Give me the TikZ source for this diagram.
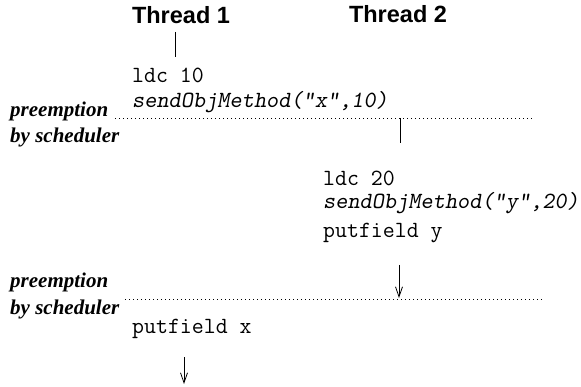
\documentclass[tikz,border=0pt]{standalone}
\usepackage{fontspec}
\setmainfont{Liberation Serif}
\newfontfamily\headfont{Liberation Sans}
\usetikzlibrary{arrows.meta}
\tikzset{
  head/.style={font=\headfont\bfseries\fontsize{23.5}{26}\selectfont, inner sep=0pt, anchor=base},
  code/.style={font=\ttfamily\fontsize{23.2}{26}\selectfont, inner sep=0pt, anchor=base west},
  icode/.style={code, font=\ttfamily\slshape\fontsize{23.2}{26}\selectfont},
  prelabel/.style={font=\bfseries\itshape\fontsize{21}{24}\selectfont, inner sep=0pt, anchor=base west},
  sched/.style={line width=0.6pt, dash pattern=on 0.8pt off 3.2pt},
  flow/.style={line width=0.8pt},
  flowarrow/.style={line width=0.8pt, -{Straight Barb[length=10pt,width=7pt]}}
}
\begin{document}
\begin{tikzpicture}[x=1pt,y=-1pt]
\useasboundingbox (0,0) rectangle (581,387);
% headers
\node[head] (t1) at (181,24) {Thread 1};
\node[head] (t2) at (398,23) {Thread 2};
% thread 1 start
\coordinate (a1) at (175,32);
\coordinate (a2) at (175,57);
\draw[flow] (a1) -- (a2);
\node[code] (ldc10) at (132,83) {ldc 10};
\node[icode] (send1) at (132,108) {sendObjMethod("x",10)};
% first preemption
\coordinate (d1s) at (115,118);
\coordinate (d1e) at (533,118);
\draw[sched] (d1s) -- (d1e);
\node[prelabel] (p1a) at (10,117) {preemption};
\node[prelabel] (p1b) at (10,143) {by scheduler};
% thread 2
\coordinate (b1) at (400,118);
\coordinate (b2) at (400,143);
\draw[flow] (b1) -- (b2);
\node[code] (ldc20) at (323,186) {ldc 20};
\node[icode] (send2) at (323,209) {sendObjMethod("y",20)};
\node[code] (puty) at (323,238) {putfield y};
\coordinate (c1) at (399,265);
\coordinate (c2) at (399,298);
\draw[flowarrow] (c1) -- (c2);
% second preemption
\coordinate (d2s) at (125,299);
\coordinate (d2e) at (542,299);
\draw[sched] (d2s) -- (d2e);
\node[prelabel] (p2a) at (10,288) {preemption};
\node[prelabel] (p2b) at (10,315) {by scheduler};
% thread 1 resumes
\node[code] (putx) at (132,334) {putfield x};
\coordinate (e1) at (184,357);
\coordinate (e2) at (184,384);
\draw[flowarrow] (e1) -- (e2);
\end{tikzpicture}
\end{document}
